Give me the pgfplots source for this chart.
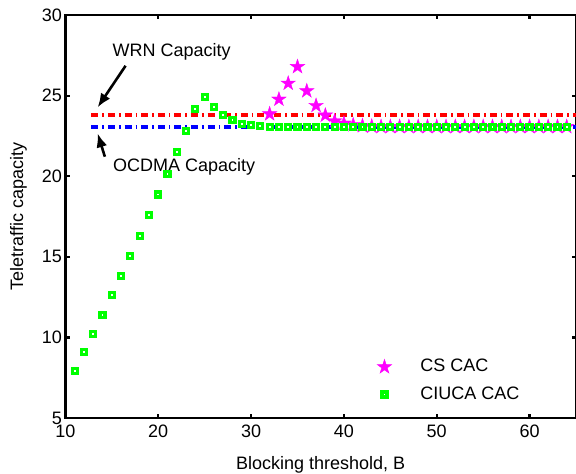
\documentclass[border=0pt]{standalone}
\usepackage{fontspec}
\setmainfont{Liberation Sans}
\usepackage{pgfplots}
\pgfplotsset{compat=1.18}
\usetikzlibrary{calc,arrows.meta}

\definecolor{cscol}{RGB}{255,0,255}
\definecolor{ciucacol}{RGB}{0,255,0}

% filled five-pointed star, like the matlab pentagram
\pgfdeclareplotmark{pentagram}{%
  \pgfpathmoveto{\pgfpointpolar{90}{\pgfplotmarksize}}%
  \pgfpathlineto{\pgfpointpolar{126}{0.382\pgfplotmarksize}}%
  \pgfpathlineto{\pgfpointpolar{162}{\pgfplotmarksize}}%
  \pgfpathlineto{\pgfpointpolar{198}{0.382\pgfplotmarksize}}%
  \pgfpathlineto{\pgfpointpolar{234}{\pgfplotmarksize}}%
  \pgfpathlineto{\pgfpointpolar{270}{0.382\pgfplotmarksize}}%
  \pgfpathlineto{\pgfpointpolar{306}{\pgfplotmarksize}}%
  \pgfpathlineto{\pgfpointpolar{342}{0.382\pgfplotmarksize}}%
  \pgfpathlineto{\pgfpointpolar{18}{\pgfplotmarksize}}%
  \pgfpathlineto{\pgfpointpolar{54}{0.382\pgfplotmarksize}}%
  \pgfpathclose
  \pgfusepathqfillstroke
}

\begin{document}
\begin{tikzpicture}[font=\fontsize{9}{11}\selectfont]
\begin{axis}[
  scale only axis, width=255.3pt, height=201.5pt,
  xmin=10, xmax=65, ymin=5, ymax=30,
  xtick={10,20,...,60}, ytick={5,10,...,30},
  tick align=inside, major tick length=2.2pt,
  axis line style={line width=1.35pt},
  every tick/.style={black, line width=1.1pt},
  /pgf/number format/assume math mode=true,
  yticklabel style={inner sep=1.5pt},
  xlabel={Blocking threshold, B},
  ylabel={Teletraffic capacity},
  xlabel style={at={(axis description cs:0.5,-0.1273)}, anchor=base},
  ylabel style={at={(axis description cs:-0.083,0.5)}, anchor=base},
  legend style={draw=none, fill=none, at={(axis cs:40.45,9.17)}, anchor=north west,
    row sep=2pt},
  legend cell align=left,
  legend image code/.code={\path[draw=none, fill=none] (0pt,0pt) (31pt,0pt);
    \draw[mark repeat=2, mark phase=2, #1]
    plot coordinates {(0pt,0pt) (15pt,0pt) (30pt,0pt)};},
]
\addplot[only marks, mark=pentagram, mark size=3.8pt,
  mark options={fill=cscol, draw=cscol, line width=0.2pt}] coordinates {
 (32,23.86) (33,24.77) (34,25.76) (35,26.79) (36,25.29) (37,24.38) (38,23.78)
 (39,23.42) (40,23.28) (41,23.18) (42,23.12) (43,23.09) (44,23.07) (45,23.07)
 (46,23.07) (47,23.07) (48,23.07) (49,23.07) (50,23.07) (51,23.07) (52,23.07)
 (53,23.07) (54,23.07) (55,23.07) (56,23.07) (57,23.07) (58,23.07) (59,23.07)
 (60,23.07) (61,23.07) (62,23.07) (63,23.07) (64,23.07)};
\addlegendentry{CS CAC}
\addplot[only marks, mark=square*, mark size=1.25pt,
  mark options={draw=ciucacol, fill=white, line width=1.6pt}] coordinates {
 (11,7.93) (12,9.08) (13,10.23) (14,11.41) (15,12.61) (16,13.81) (17,15.05)
 (18,16.29) (19,17.59) (20,18.86) (21,20.15) (22,21.49) (23,22.82) (24,24.19)
 (25,24.93) (26,24.27) (27,23.78) (28,23.47) (29,23.26) (30,23.16) (31,23.10)
 (32,23.07) (33,23.05) (34,23.05) (35,23.05) (36,23.05) (37,23.05) (38,23.05)
 (39,23.05) (40,23.05) (41,23.05) (42,23.05) (43,23.05) (44,23.05) (45,23.05)
 (46,23.05) (47,23.05) (48,23.05) (49,23.05) (50,23.05) (51,23.05) (52,23.05)
 (53,23.05) (54,23.05) (55,23.05) (56,23.05) (57,23.05) (58,23.05) (59,23.05)
 (60,23.05) (61,23.05) (62,23.05) (63,23.05) (64,23.05)};
\addlegendentry{CIUCA CAC}
% capacity levels
\addplot[red, line width=1.6pt, dash pattern=on 3.5pt off 2pt on 0.8pt off 2pt, forget plot]
  coordinates {(12.8,23.8) (65,23.8)};
\addplot[blue, line width=1.6pt, dash pattern=on 3.5pt off 2pt on 0.8pt off 2pt, forget plot]
  coordinates {(12.8,23.05) (65,23.05)};
% annotations
\node at (axis cs:21.45,27.72) {WRN Capacity};
\draw[-{Latex[length=7pt,width=5.5pt]}, line width=1.3pt]
  (axis cs:16.48,26.85) -- (axis cs:13.47,24.27);
\node at (axis cs:22.79,20.59) {OCDMA Capacity};
\draw[-{Latex[length=7pt,width=5.5pt]}, line width=1.3pt]
  (axis cs:14.25,21.21) -- (axis cs:13.47,22.66);
\end{axis}
\pgfresetboundingbox
\path[use as bounding box] ($(current axis.south west)+(-32.7pt,-27.5pt)$)
  rectangle ($(current axis.south west)+(255.3pt,209pt)$);
\end{tikzpicture}
\end{document}
